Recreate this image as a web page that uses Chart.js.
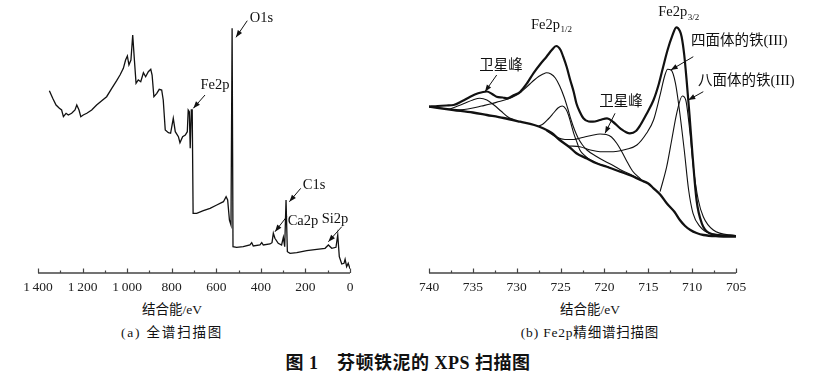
<!DOCTYPE html>
<html><head><meta charset="utf-8">
<script src="https://cdn.jsdelivr.net/npm/chart.js@4.4.1/dist/chart.umd.min.js"></script>
<style>
html,body{margin:0;padding:0;background:#fff;}
body{width:819px;height:378px;position:relative;overflow:hidden;font-family:'Liberation Serif','Noto Sans CJK SC',serif;color:#111;}
canvas{position:absolute;top:0;}
.t{position:absolute;text-align:center;white-space:nowrap;}
</style></head><body>
<canvas id="c1" width="400" height="300" style="left:0px"></canvas>
<canvas id="c2" width="419" height="300" style="left:400px"></canvas>
<div class="t" style="left:72px;width:200px;top:301px;font-size:13.5px;line-height:18px">结合能/eV</div>
<div class="t" style="left:72px;width:200px;top:324px;font-size:13.5px;line-height:18px;letter-spacing:1.8px">(a) 全谱扫描图</div>
<div class="t" style="left:490px;width:200px;top:301px;font-size:13.5px;line-height:18px">结合能/eV</div>
<div class="t" style="left:490px;width:200px;top:324px;font-size:13.5px;line-height:18px;letter-spacing:0.8px">(b) Fe2p精细谱扫描图</div>
<div class="t" style="left:208px;width:400px;top:352px;font-size:18px;line-height:22px;font-weight:bold;letter-spacing:0.5px">图 1　芬顿铁泥的 XPS 扫描图</div>
<script>
// ---------- (a) survey spectrum ----------
const surveyEnergy = [1349,1334,1319,1304,1294,1286,1274,1264,1249,1234,1226,1216,1208,1197,1181,1159,1137,1114,1092,1069,1047,1032,1017,1007,999,992,983,975,968,960,950,939,927,917,905,894,888,880,867,856,845,838,829,815,805,793,784,770,763,751,739,730,726,721,717,712,708,704,688,658,628,598,568,556,549,541,534,529,525,509,479,449,441,434,404,396,389,359,350,344,337,322,307,299,293,287,281,269,239,194,149,112,97,82,63,55,48,37,27,22,15,8,0];
const surveyIntensity = [182.3,174.7,168,164.7,163,156.3,159.7,158,159.7,163,168,163,156.3,158,159.7,163,168,172.3,176.3,184.7,192.3,198,204.7,213,217,208,213,238,214.7,189.7,193,191.3,200.3,196.3,201.3,203.7,198,176.3,179.7,183.7,183,173,143,140.3,139.7,154.7,141.3,136.3,130.3,136.3,138,141.3,163,161.3,124.7,163,163,59.7,59.7,62.3,64.7,68,71.3,76.3,73,53,48,244.7,26.3,25.7,26.3,28,30.3,27,28,30.3,28,29,30.3,39.7,34.7,29.7,28,35.7,26.3,73,21.3,19.7,20.3,22.3,23.7,24.7,28,24.7,25.7,38,16.3,9,9.7,13.7,6.3,9.7,4.3];
const surveyTickValues = [1400,1200,1000,800,600,400,200,0];
const surveyTickLabels = ['1\u2009400','1\u2009200','1\u2009000','800','600','400','200','0'];
const surveyNotes = [
  {text:'O1s', e:397, v:255, arrow:[461,252.3,511.5,235.7]},
  {text:'Fe2p', e:606, v:188, arrow:[650.6,178,703,164.7]},
  {text:'C1s', e:161.5, v:88, arrow:[221,84.7,272,71.3]},
  {text:'Ca2p', e:211, v:52, arrow:[284,56.3,336.5,41.3]},
  {text:'Si2p', e:67.3, v:54, arrow:[37,46.3,97,31.3]}
];

// ---------- (b) Fe2p fine spectrum ----------
const rawEnergy = [740,739,738,737.2,736.2,735.3,734.4,733.4,732.8,732.3,731.6,731.1,730.3,729.6,728.8,728.1,727.3,726.6,726,725.5,725,724.7,724.3,723.9,723.5,723.2,722.8,722.4,721.8,721.3,720.5,719.7,719,718.2,717.1,716.4,715.9,715.2,714.4,713.8,713.3,712.8,712.3,711.8,711.4,711.2,710.9,710.6,710.3,710,709.5,708.9,708,707,705];
const rawIntensity = [166.3,167,167.5,168,172,176.3,179.7,181.5,179,176.3,175.5,174.7,178,181.3,190,199.7,209,216.3,223,227,223,216.3,206,193,181,169.7,161,154.7,151.5,151.3,153,154.7,151,144.7,139.7,142,148,159,173,189,206.3,223,236.3,245.7,242,236.3,218,189.7,158,123,73,49.7,39.7,38,37];
const bgEnergy = [740,737.2,735,733.4,731.5,729.6,728,727,726,725.1,724,723.2,722,720.9,719.5,718.2,717,715.9,715,714.4,713.6,712.9,712,711.4,710.8,710.2,709.5,708.7,707,705];
const bgIntensity = [166.3,163,160.5,158,155,151.3,148,144.7,140,133,126,119.7,114.5,109.7,105.5,101.3,97.5,93,89.5,84.7,78,69.7,61,53,47,43,40,38,36.7,36.3];
const sat1Energy = [737.8,737,736,735,734.2,733.4,732.6,731.8,731,730.3];
const sat1Intensity = [163.5,166,169.5,173,174.7,173,168,162,156,153];
const p12aEnergy = [739,737,736,735,734,733,732,731,730,729.5,729,728.5,728,727.5,727,726.6,726.1,725.6,725.1,724.6,724.2,723.8,723.4,723,722.5,722,721,720,719,718,717,716];
const p12aIntensity = [165.5,163,163.5,165,167,169,171.5,174,178,181,185,189,193,196.5,199,200.3,199,195,187,176,165,153,143,135,128,123,117,112,107.5,102.5,98.5,94];
const p12bEnergy = [727.5,727,726.4,725.8,725.3,724.8,724.4,724.1,723.8,723.5,723.1,722.8,722.2,721.6,720.5,719.5];
const p12bIntensity = [147,149,154,160,165,167,164,158,149,139.7,130,123,117,113,108.5,106];
const sat2Energy = [726.6,725.5,724.5,723.5,722.5,721.5,720.5,719.8,719.2,718.6,718,717.4,716.8,716,715.5];
const sat2Intensity = [142,136,133.5,133.5,135.5,137.5,139,138.5,136,129.7,121,111,102,95,91];
const tetraEnergy = [724,722.8,721.6,720.5,719,717.5,716.3,715.2,714.4,713.7,713.1,712.8,712.4,711.9,711.5,710.9,710.4,709.9,709.1,708,705];
const tetraIntensity = [127,126.3,123,121.3,121.3,123.7,128,139.7,153,176.3,198,203.7,203,189.7,166.3,123,83,59.7,46.3,39.7,37];
const octaEnergy = [713.66,712.9,712.33,711.76,711.12,710.73,710.24,709.87,709.3,708.73,707.59,705.3,705];
const octaIntensity = [81.3,106.3,133,159.7,177,173,139.7,106.3,73,56.3,43,37.7,37.5];
const fineTickValues = [740,735,730,725,720,715,710,705];
const fineTickLabels = ['740','735','730','725','720','715','710','705'];
const fineNotes = [
  {text:'Fe2p', sub:'3/2', e:713.86, v:260.5, align:'left'},
  {text:'Fe2p', sub:'1/2', e:728.37, v:248, align:'left'},
  {text:'卫星峰', e:731.79, v:207, arrow:[732.28,198,733.62,181.3]},
  {text:'四面体的铁(III)', e:710.13, v:232, align:'left', arrow:[709.87,216.3,712.44,203]},
  {text:'八面体的铁(III)', e:709.33, v:192, align:'left', arrow:[708.73,181.3,710.44,173]},
  {text:'卫星峰', e:718.11, v:171, arrow:[718.79,159.7,719.93,139.7]}
];

const SERIF = "'Liberation Serif','Noto Sans CJK SC',serif";
const INK = '#111';

function pts(xs, ys){ return xs.map((x,i)=>({x:x, y:ys[i]})); }

function drawArrow(ctx, x1,y1,x2,y2){
  ctx.beginPath(); ctx.moveTo(x1,y1); ctx.lineTo(x2,y2); ctx.stroke();
  const a = Math.atan2(y2-y1, x2-x1), L=7, W=2.6;
  ctx.beginPath();
  ctx.moveTo(x2,y2);
  ctx.lineTo(x2 - L*Math.cos(a) + W*Math.sin(a), y2 - L*Math.sin(a) - W*Math.cos(a));
  ctx.lineTo(x2 - L*Math.cos(a) - W*Math.sin(a), y2 - L*Math.sin(a) + W*Math.cos(a));
  ctx.closePath(); ctx.fill();
}

const axisPlugin = {
  id:'axisPlugin',
  afterDraw(chart, args, opts){
    const ctx = chart.ctx, xs = chart.scales.x, ys = chart.scales.y;
    const ca = chart.chartArea;
    ctx.save();
    ctx.strokeStyle = '#444'; ctx.lineWidth = 1.5;
    ctx.beginPath(); ctx.moveTo(ca.left, ca.bottom); ctx.lineTo(ca.right, ca.bottom); ctx.stroke();
    ctx.lineWidth = 1.2;
    const step = opts.step;
    for (let v = xs.min; v <= xs.max + 1e-9; v += step/2){
      const major = Math.abs(Math.round(v/step)*step - v) < 1e-6;
      const px = Math.round(xs.getPixelForValue(v)) + 0.5;
      ctx.beginPath(); ctx.moveTo(px, ca.bottom); ctx.lineTo(px, ca.bottom - (major?4.5:2.5)); ctx.stroke();
    }
    // annotations
    ctx.fillStyle = INK; ctx.strokeStyle = INK; ctx.lineWidth = 1;
    ctx.textBaseline = 'middle';
    for (const n of opts.notes){
      const tx = xs.getPixelForValue(n.e), ty = ys.getPixelForValue(n.v);
      ctx.font = opts.fontSize + 'px ' + SERIF;
      ctx.textAlign = n.align || 'center';
      ctx.fillText(n.text, tx, ty);
      if (n.sub){
        const w = ctx.measureText(n.text).width;
        ctx.font = '9px ' + SERIF;
        ctx.textAlign = 'left';
        ctx.fillText(n.sub, tx + w + 0.5, ty + 5);
      }
      if (n.arrow){
        const a = n.arrow;
        drawArrow(ctx, xs.getPixelForValue(a[0]), ys.getPixelForValue(a[1]), xs.getPixelForValue(a[2]), ys.getPixelForValue(a[3]));
      }
    }
    ctx.restore();
  }
};

function xScale(min, max, step, values, labels){
  return {
    type:'linear', reverse:true, min:min, max:max,
    grid:{display:false, drawTicks:false}, border:{display:false},
    ticks:{stepSize:step, padding:6, color:'#222', autoSkip:false, maxRotation:0,
      font:{family:SERIF, size:13.5},
      callback:(v)=>{ const i = values.indexOf(v); return i>=0 ? labels[i] : ''; }},
    afterFit:(axis)=>{ axis.height = 27; }
  };
}

function lineDS(data, width, mode){
  return {data:data, borderColor:INK, borderWidth:width, pointRadius:0, fill:false,
    tension: mode ? 0.4 : 0, cubicInterpolationMode: mode || 'default'};
}

new Chart(document.getElementById('c1'), {
  type:'line',
  data:{datasets:[lineDS(pts(surveyEnergy, surveyIntensity), 1.3, null)]},
  options:{
    responsive:false, animation:false, devicePixelRatio:1,
    layout:{padding:{left:38, right:50, top:0, bottom:0}},
    plugins:{legend:{display:false}, tooltip:{enabled:false},
      axisPlugin:{step:200, notes:surveyNotes, fontSize:14.5}},
    scales:{
      x: xScale(0, 1400, 200, surveyTickValues, surveyTickLabels),
      y:{display:false, min:0, max:273}
    }
  },
  plugins:[axisPlugin]
});

new Chart(document.getElementById('c2'), {
  type:'line',
  data:{datasets:[
    lineDS(pts(bgEnergy, bgIntensity), 2.3, 'monotone'),
    lineDS(pts(sat1Energy, sat1Intensity), 1.1, 'monotone'),
    lineDS(pts(p12aEnergy, p12aIntensity), 1.1, 'monotone'),
    lineDS(pts(p12bEnergy, p12bIntensity), 1.1, 'monotone'),
    lineDS(pts(sat2Energy, sat2Intensity), 1.1, 'monotone'),
    lineDS(pts(tetraEnergy, tetraIntensity), 1.1, 'monotone'),
    lineDS(pts(octaEnergy, octaIntensity), 1.1, 'monotone'),
    lineDS(pts(rawEnergy, rawIntensity), 2.2, 'monotone')
  ]},
  options:{
    responsive:false, animation:false, devicePixelRatio:1,
    layout:{padding:{left:29, right:83, top:0, bottom:0}},
    plugins:{legend:{display:false}, tooltip:{enabled:false},
      axisPlugin:{step:5, notes:fineNotes, fontSize:14.5}},
    scales:{
      x: xScale(705, 740, 5, fineTickValues, fineTickLabels),
      y:{display:false, min:0, max:273}
    }
  },
  plugins:[axisPlugin]
});
</script>
</body></html>
